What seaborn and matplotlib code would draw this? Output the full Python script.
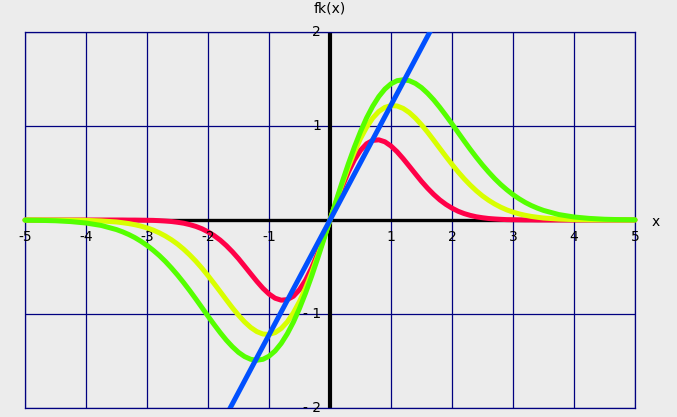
import numpy as np
import pandas as pd
import matplotlib
matplotlib.use("Agg")
import matplotlib.pyplot as plt
import seaborn as sns

# values (curves are odd: f(-x) = -f(x))
x_pos = [0.0, 0.1, 0.2, 0.3, 0.4, 0.5, 0.6, 0.7, 0.8, 0.9,
         1.0, 1.1, 1.2, 1.3, 1.4, 1.5, 1.6, 1.7, 1.8, 1.9,
         2.0, 2.1, 2.2, 2.3, 2.4, 2.5, 2.6, 2.7, 2.8, 2.9,
         3.0, 3.1, 3.2, 3.3, 3.4, 3.5, 3.75, 4.0, 4.25, 4.5, 4.75, 5.0]
red_pos = [0.0, 0.182, 0.354, 0.509, 0.640, 0.741, 0.811, 0.847, 0.853, 0.832,
           0.787, 0.726, 0.652, 0.572, 0.491, 0.411, 0.338, 0.272, 0.214, 0.166,
           0.126, 0.093, 0.068, 0.049, 0.034, 0.024, 0.016, 0.011, 0.007, 0.004,
           0.003, 0.002, 0.001, 0.001, 0.0, 0.0, 0.0, 0.0, 0.0, 0.0, 0.0, 0.0]
yellow_pos = [0.0, 0.194, 0.383, 0.561, 0.723, 0.867, 0.987, 1.084, 1.154, 1.198,
              1.217, 1.213, 1.187, 1.143, 1.084, 1.013, 0.934, 0.849, 0.762, 0.676,
              0.592, 0.512, 0.438, 0.371, 0.310, 0.256, 0.210, 0.170, 0.136, 0.107,
              0.084, 0.065, 0.050, 0.038, 0.029, 0.021, 0.010, 0.004, 0.002, 0.001, 0.0, 0.0]
green_pos = [0.0, 0.204, 0.404, 0.596, 0.776, 0.940, 1.086, 1.210, 1.313, 1.393,
             1.449, 1.482, 1.492, 1.482, 1.453, 1.408, 1.348, 1.278, 1.198, 1.112,
             1.023, 0.931, 0.840, 0.751, 0.666, 0.585, 0.510, 0.440, 0.377, 0.321,
             0.270, 0.226, 0.187, 0.154, 0.126, 0.102, 0.058, 0.032, 0.017, 0.008, 0.004, 0.002]
blue_x = [-1.8, 1.8]
blue_y = [-2.2, 2.2]

x_ticks = [-5, -4, -3, -2, -1, 1, 2, 3, 4, 5]
y_ticks = [-2, -1, 1, 2]
x_tick_labels = ["-5", "-4", "-3", "-2", "-1", "1", "2", "3", "4", "5"]
y_tick_labels = ["- 2", "- 1", "1", "2"]


def full(vals):
    xs = [-v for v in x_pos[:0:-1]] + x_pos
    ys = [-v for v in vals[:0:-1]] + vals
    return pd.DataFrame({"x": xs, "y": ys})


bg = "#ECECEC"
navy = "#000080"
fig = plt.figure(figsize=(6.77, 4.17), dpi=100, facecolor=bg)
ax = fig.add_axes([25 / 677, 9 / 417, 610 / 677, 376 / 417])
ax.set_facecolor(bg)
plt.rcParams['font.family'] = ['DejaVu Sans']

ax.set_xlim(-5, 5)
ax.set_ylim(-2, 2)
ax.set_xticks(range(-5, 6))
ax.set_yticks(range(-2, 3))
ax.tick_params(length=0, labelbottom=False, labelleft=False)
ax.grid(True, color=navy, lw=0.9)
ax.set_axisbelow(True)
for s in ax.spines.values():
    s.set_color(navy)
    s.set_linewidth(0.9)

ax.axhline(0, color="black", lw=2.4, zorder=1.5)
ax.axvline(0, color="black", lw=3.0, zorder=1.5)

style = dict(lw=3.6, solid_capstyle="round", solid_joinstyle="round",
             clip_on=False, legend=False, sort=False)
sns.lineplot(data=full(red_pos), x="x", y="y", color="#FF0048", ax=ax, zorder=3, **style)
sns.lineplot(data=full(yellow_pos), x="x", y="y", color="#D8FF00", ax=ax, zorder=4, **style)
sns.lineplot(data=full(green_pos), x="x", y="y", color="#55FF00", ax=ax, zorder=5, **style)
sns.lineplot(x=blue_x, y=blue_y, color="#0050FF", lw=3.6, ax=ax, zorder=6)

for xv, lab in zip(x_ticks, x_tick_labels):
    ax.text(xv, -0.18, lab, ha="center", va="center", fontsize=10)
for yv, lab in zip(y_ticks, y_tick_labels):
    ax.text(-0.15, yv, lab, ha="right", va="center", fontsize=10)

ax.set_xlabel("")
ax.set_ylabel("")
fig.text(330 / 677, 1 - 9 / 417, "fk(x)", ha="center", va="center", fontsize=10)
fig.text(656 / 677, 1 - 222 / 417, "x", ha="center", va="center", fontsize=10)

fig.savefig("out.png", dpi=100, facecolor=bg)
